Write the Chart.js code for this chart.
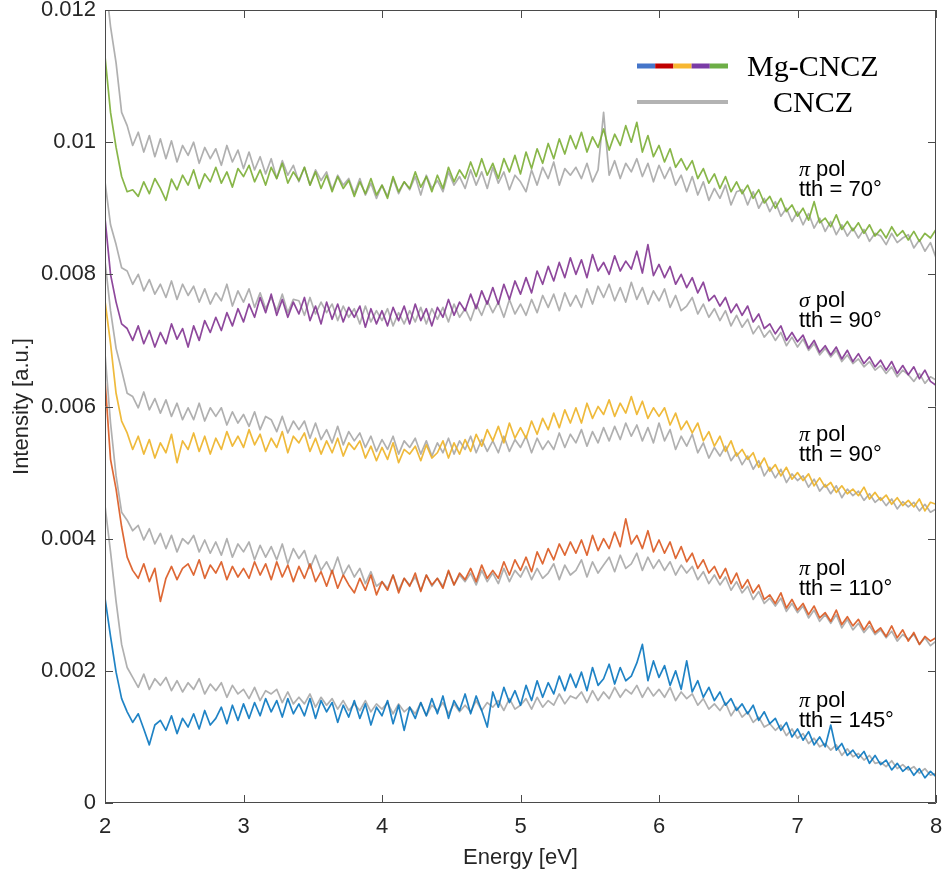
<!DOCTYPE html>
<html><head><meta charset="utf-8">
<script src="https://cdn.jsdelivr.net/npm/chart.js@4.4.1/dist/chart.umd.min.js"></script>
<style>html,body{margin:0;padding:0;background:#fff}#wrap{width:946px;height:874px;position:relative}</style>
</head><body><div id="wrap"><canvas id="c"></canvas></div>
<script>
// Energy grid [eV]
const energy=[2,2.04,2.08,2.12,2.16,2.2,2.24,2.28,2.32,2.36,
2.4,2.44,2.48,2.52,2.56,2.6,2.64,2.68,2.72,2.76,
2.8,2.84,2.88,2.92,2.96,3,3.04,3.08,3.12,3.16,
3.2,3.24,3.28,3.32,3.36,3.4,3.44,3.48,3.52,3.56,
3.6,3.64,3.68,3.72,3.76,3.8,3.84,3.88,3.92,3.96,
4,4.04,4.08,4.12,4.16,4.2,4.24,4.28,4.32,4.36,
4.4,4.44,4.48,4.52,4.56,4.6,4.64,4.68,4.72,4.76,
4.8,4.84,4.88,4.92,4.96,5,5.04,5.08,5.12,5.16,
5.2,5.24,5.28,5.32,5.36,5.4,5.44,5.48,5.52,5.56,
5.6,5.64,5.68,5.72,5.76,5.8,5.84,5.88,5.92,5.96,
6,6.04,6.08,6.12,6.16,6.2,6.24,6.28,6.32,6.36,
6.4,6.44,6.48,6.52,6.56,6.6,6.64,6.68,6.72,6.76,
6.8,6.84,6.88,6.92,6.96,7,7.04,7.08,7.12,7.16,
7.2,7.24,7.28,7.32,7.36,7.4,7.44,7.48,7.52,7.56,
7.6,7.64,7.68,7.72,7.76,7.8,7.84,7.88,7.92,7.96,
8];
// Intensities, in units of 1e-5 a.u.
// Mg-CNCZ, pi pol, tth = 70
const mg70=[1130,1045,992,948,925,928,918,940,922,945,
930,912,944,928,950,935,958,930,952,940,
962,938,955,932,960,948,965,940,958,935,
962,945,968,938,955,942,962,935,955,930,
950,925,948,930,942,918,940,922,945,920,
935,915,948,925,940,930,955,932,948,925,
950,930,962,940,958,945,970,948,975,950,
968,945,975,955,980,952,985,960,990,968,
998,975,1005,982,1010,990,1015,985,1008,992,
1020,988,1012,995,1025,1000,1030,985,1010,978,
995,970,990,962,975,958,972,945,960,938,
952,930,948,925,940,922,935,915,928,908,
918,900,915,895,905,888,900,882,910,878,
885,872,890,868,880,866,878,862,875,858,
868,855,872,858,866,852,865,850,862,855,
868];
// CNCZ, pi pol, tth = 70
const cn70=[1250,1175,1120,1045,1025,995,1015,985,1010,978,
1005,975,1002,970,995,980,1000,968,992,975,
990,965,995,970,988,960,985,958,978,952,
975,945,972,950,965,940,962,935,958,942,
955,928,950,935,945,922,945,920,938,915,
935,918,945,922,940,928,948,920,950,930,
942,925,955,935,948,930,958,935,955,930,
962,938,955,928,950,940,925,958,935,962,
945,970,935,960,950,962,945,968,940,958,
1045,950,972,945,968,955,975,948,968,940,
965,945,962,935,950,925,948,920,940,912,
930,915,935,905,925,928,905,925,900,915,
895,910,888,900,880,895,875,892,870,885,
865,880,860,875,858,870,855,868,850,862,
858,845,862,848,855,860,840,852,835,848,
825];
// Mg-CNCZ, sigma pol, tth = 90
const mg90s=[885,800,758,725,718,700,722,695,715,690,
712,695,725,702,718,690,722,700,730,712,
735,715,742,722,748,728,755,735,765,742,
770,738,762,735,758,740,765,730,752,725,
758,732,755,728,750,735,752,720,748,725,
745,722,750,730,752,725,755,730,748,722,
750,735,762,738,758,745,770,748,775,755,
780,755,785,762,790,770,795,772,805,785,
812,790,818,795,825,800,822,795,830,805,
818,800,828,805,820,808,835,802,845,798,
815,795,812,785,800,780,795,772,788,760,
768,752,765,742,755,738,752,728,740,718,
725,710,722,700,712,698,708,688,700,682,
692,678,690,672,685,668,680,665,675,660,
670,655,668,650,662,648,660,642,655,638,
632];
// CNCZ, sigma pol, tth = 90
const cn90s=[940,875,845,810,805,785,800,775,792,770,
785,765,790,762,785,768,782,758,778,755,
772,760,785,752,775,758,778,750,772,748,
765,745,770,742,762,760,738,765,740,758,
742,755,730,752,735,748,725,752,728,745,
730,748,722,742,725,745,728,750,725,748,
732,750,728,755,735,748,730,755,738,760,
742,758,735,762,740,755,738,762,742,768,
750,770,745,772,752,768,750,778,755,782,
765,785,760,780,758,788,762,780,755,775,
760,778,750,768,745,752,765,740,755,735,
748,730,745,722,738,720,732,710,722,705,
715,700,712,692,705,690,702,685,695,678,
688,675,685,668,678,665,672,660,668,655,
662,650,660,645,655,648,638,650,635,645,
640];
// Mg-CNCZ, pi pol, tth = 90
const mg90p=[760,695,620,578,560,535,555,528,550,522,
545,530,558,515,548,535,560,532,555,528,
552,535,562,540,555,538,565,542,558,532,
552,538,562,530,555,545,560,532,552,528,
548,530,552,525,545,535,548,522,540,518,
538,520,545,515,535,528,540,518,542,522,
530,548,522,545,528,550,532,558,540,565,
548,570,545,575,552,568,552,578,558,582,
565,590,568,595,575,598,575,605,582,600,
588,610,585,605,590,615,588,608,582,598,
585,598,572,590,565,578,560,575,548,562,
540,555,532,548,525,535,520,530,508,522,
502,512,495,508,490,500,488,498,480,492,
478,485,470,480,468,475,465,478,460,470,
458,466,452,462,450,458,448,460,442,455,
452];
// CNCZ, pi pol, tth = 90
const cn90p=[820,745,688,655,620,615,598,622,595,612,
590,610,585,605,580,598,580,605,578,598,
585,598,572,592,575,588,570,592,565,585,
580,562,585,560,578,565,578,552,575,550,
565,545,570,542,562,548,560,538,555,532,
550,535,555,528,548,538,552,528,548,525,
545,530,552,528,548,535,555,530,550,532,
548,530,555,532,550,538,555,530,552,535,
548,535,560,538,558,545,565,540,562,545,
568,548,570,550,575,555,572,548,568,545,
575,548,565,535,555,540,558,530,545,522,
538,525,540,518,530,512,525,505,518,495,
508,492,505,485,498,488,495,478,490,472,
482,468,480,462,475,465,472,458,468,455,
462,450,460,445,456,448,455,442,452,440,
445];
// Mg-CNCZ, pi pol, tth = 110
const mg110=[640,520,475,418,372,352,340,362,335,355,
305,340,358,338,355,362,345,368,340,360,
348,365,338,358,342,355,340,365,345,362,
338,365,342,360,335,358,340,362,335,350,
328,352,325,345,330,318,340,322,345,315,
335,322,345,318,340,328,348,320,345,330,
340,325,352,330,348,338,355,335,360,340,
352,340,365,345,368,352,372,350,380,362,
385,368,392,375,395,378,398,375,405,382,
400,385,410,388,430,392,405,385,412,380,
398,378,395,370,388,365,378,355,368,348,
358,340,355,332,348,325,338,318,330,308,
315,302,318,295,308,292,302,285,298,280,
288,275,292,270,282,268,278,262,275,258,
265,252,268,250,262,245,258,240,252,245,
250];
// CNCZ, pi pol, tth = 110
const cn110=[680,575,495,440,428,412,420,398,415,392,
408,385,405,380,400,392,405,380,398,378,
395,375,400,372,392,380,395,368,390,372,
388,368,392,362,385,370,382,355,375,352,
365,348,372,345,360,342,355,332,350,328,
335,325,345,322,340,330,342,322,345,328,
340,328,350,330,345,335,348,330,352,335,
348,332,355,335,352,342,358,338,355,340,
348,362,338,360,345,352,368,342,365,348,
360,372,350,375,355,362,378,352,372,355,
368,352,365,345,360,348,358,338,350,332,
345,330,342,322,335,318,328,308,320,302,
310,298,310,290,302,288,298,280,292,275,
285,272,285,265,278,262,272,258,268,255,
262,250,260,245,255,248,255,240,250,238,
245];
// Mg-CNCZ, pi pol, tth = 145
const mg145=[310,252,198,158,138,122,135,112,88,118,
125,110,132,105,128,115,135,112,140,118,
128,145,120,148,125,150,128,152,132,158,
138,155,130,158,135,150,132,158,128,155,
138,152,122,148,130,155,128,150,118,145,
132,155,120,148,110,145,128,152,132,158,
135,162,128,155,140,165,135,162,140,115,
168,145,175,152,170,148,178,155,185,160,
182,165,192,170,195,175,198,170,205,178,
188,210,180,205,185,192,212,240,185,215,
190,208,178,200,172,215,168,185,160,175,
155,168,148,158,140,150,135,148,125,138,
120,128,110,122,100,112,95,108,88,100,
85,118,80,90,72,80,68,78,60,72,
58,65,50,60,48,55,42,52,38,48,
40];
// CNCZ, pi pol, tth = 145
const cn145=[450,380,305,240,205,190,175,195,172,188,
178,190,170,185,168,182,172,188,165,180,
170,182,160,178,165,172,158,175,155,170,
165,172,152,168,150,160,150,165,145,160,
148,158,142,155,140,150,140,155,138,150,
142,152,135,150,138,145,135,152,132,148,
140,152,135,150,138,148,138,155,140,152,
145,155,140,158,142,148,158,142,160,145,
155,148,165,150,162,158,168,152,170,155,
168,158,175,160,172,165,178,160,175,162,
172,160,175,155,168,158,165,148,158,142,
150,140,152,132,145,130,138,122,130,115,
120,110,118,102,112,98,105,90,98,85,
90,80,88,72,82,70,75,65,72,60,
62,55,64,52,58,50,55,45,52,42,
45];

const xTickValues=[2,3,4,5,6,7,8];
const xTickLabels=['2','3','4','5','6','7','8'];
const yTickValues=[0,0.002,0.004,0.006,0.008,0.01,0.012];
const yTickLabels=['0','0.002','0.004','0.006','0.008','0.01','0.012'];
const seriesNames=['Mg-CNCZ','CNCZ'];
const panelLabels=[
  {sym:'\u03c0', line2:'tth = 70\u00b0',  x:7.01, y:0.00918},
  {sym:'\u03c3', line2:'tth = 90\u00b0',  x:7.01, y:0.00720},
  {sym:'\u03c0', line2:'tth = 90\u00b0',  x:7.01, y:0.00517},
  {sym:'\u03c0', line2:'tth = 110\u00b0', x:7.01, y:0.00315},
  {sym:'\u03c0', line2:'tth = 145\u00b0', x:7.01, y:0.00115}
];

const UNIT=1e-5;
function pts(arr){return energy.map((e,i)=>({x:e,y:arr[i]*UNIT}));}

const GRAY='rgba(172,172,172,0.95)';
const colored=[
  {d:mg70,c:'rgba(119,172,48,0.88)'},
  {d:mg90s,c:'rgba(126,47,142,0.88)'},
  {d:mg90p,c:'rgba(237,177,32,0.88)'},
  {d:mg110,c:'rgba(217,83,25,0.88)'},
  {d:mg145,c:'rgba(0,114,189,0.88)'}
];
const grays=[cn70,cn90s,cn90p,cn110,cn145];

const datasets=[];
colored.forEach(s=>datasets.push({data:pts(s.d),borderColor:s.c,borderWidth:1.7}));
grays.forEach(g=>datasets.push({data:pts(g),borderColor:GRAY,borderWidth:1.7}));

const SANS="'Liberation Sans', Arial, Helvetica, sans-serif";
const SERIF="'Liberation Serif', 'Times New Roman', serif";

const decor={
  id:'decor',
  afterDatasetsDraw(chart){
    const {ctx,chartArea:a,scales:{x,y}}=chart;
    ctx.save();
    // box + inward ticks
    ctx.strokeStyle='#4a4a4a';ctx.lineWidth=1;
    ctx.beginPath();
    ctx.rect(a.left+0.5,a.top+0.5,a.right-a.left-1,a.bottom-a.top-1);
    xTickValues.forEach(v=>{const p=Math.round(x.getPixelForValue(v))+0.5;
      ctx.moveTo(p,a.bottom);ctx.lineTo(p,a.bottom-8);ctx.moveTo(p,a.top);ctx.lineTo(p,a.top+8);});
    yTickValues.forEach(v=>{const p=Math.round(y.getPixelForValue(v))+0.5;
      ctx.moveTo(a.left,p);ctx.lineTo(a.left+8,p);ctx.moveTo(a.right,p);ctx.lineTo(a.right-8,p);});
    ctx.stroke();
    // panel labels
    ctx.fillStyle='#000';ctx.textBaseline='alphabetic';ctx.textAlign='left';
    panelLabels.forEach(l=>{
      const px=x.getPixelForValue(l.x), py=y.getPixelForValue(l.y);
      ctx.font='italic 22px '+SERIF;
      ctx.fillText(l.sym,px,py-20);
      const w=ctx.measureText(l.sym).width;
      ctx.font='22px '+SANS;
      ctx.fillText(' pol',px+w,py-20);
      ctx.fillText(l.line2,px,py);
    });
    // legend
    const lx0=637, seg=18.2, ly1=66, ly2=102;
    const legCols=['#4575C9','#C00000','#F7B731','#7A3BA6','#6DAE47'];
    ctx.lineWidth=5;
    legCols.forEach((c,i)=>{ctx.strokeStyle=c;ctx.beginPath();ctx.moveTo(lx0+i*seg,ly1);ctx.lineTo(lx0+(i+1)*seg,ly1);ctx.stroke();});
    ctx.strokeStyle='#B3B3B3';ctx.lineWidth=4;
    ctx.beginPath();ctx.moveTo(lx0,ly2);ctx.lineTo(lx0+5*seg,ly2);ctx.stroke();
    ctx.fillStyle='#000';ctx.font='30px '+SERIF;
    ctx.fillText(seriesNames[0],747,76);
    ctx.fillText(seriesNames[1],773,112);
    ctx.restore();
  }
};

new Chart(document.getElementById('c'),{
  type:'line',
  data:{datasets},
  options:{
    responsive:true,maintainAspectRatio:false,animation:false,
    devicePixelRatio:1,
    layout:{padding:{top:10,right:10,left:0,bottom:0}},
    elements:{point:{radius:0},line:{tension:0,borderJoinStyle:'round'}},
    plugins:{legend:{display:false},tooltip:{enabled:false}},
    scales:{
      x:{type:'linear',min:2,max:8,
        afterFit:s=>{s.height=71;s.paddingLeft=0;s.paddingRight=0;},
        grid:{display:false,drawTicks:false},border:{display:false},
        ticks:{stepSize:1,padding:11,color:'#262626',font:{family:SANS,size:22},
          callback:(v,i)=>xTickLabels[i]},
        title:{display:true,text:'Energy [eV]',color:'#262626',font:{family:SANS,size:22},padding:{top:0,bottom:3}}
      },
      y:{type:'linear',min:0,max:0.012,
        afterFit:s=>{s.width=105;s.paddingTop=0;s.paddingBottom=0;},
        grid:{display:false,drawTicks:false},border:{display:false},
        ticks:{stepSize:0.002,padding:9,color:'#262626',font:{family:SANS,size:22},
          callback:(v,i)=>yTickLabels[i]},
        title:{display:true,text:'Intensity [a.u.]',color:'#262626',font:{family:SANS,size:22},padding:{top:9,bottom:0}}
      }
    }
  },
  plugins:[decor]
});
</script>
</body></html>
